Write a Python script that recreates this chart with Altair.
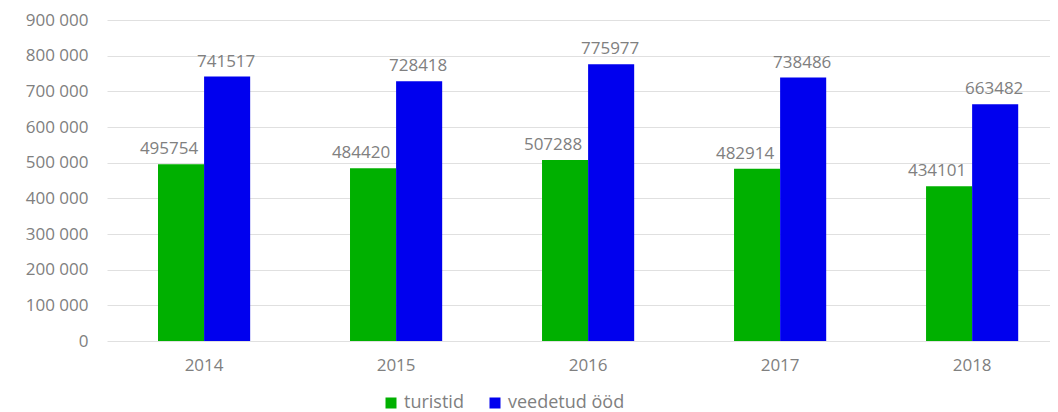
import altair as alt
import pandas as pd

years = ["2014", "2015", "2016", "2017", "2018"]
turistid = [495754, 484420, 507288, 482914, 434101]
veedetud = [741517, 728418, 775977, 738486, 663482]
series = ["turistid", "veedetud ööd"]
colors = ["#00B000", "#0000EE"]
y_ticks = [0, 100000, 200000, 300000, 400000, 500000, 600000, 700000, 800000, 900000]

rows = []
for i, yr in enumerate(years):
    rows.append({"aasta": yr, "seeria": series[0], "väärtus": turistid[i]})
    rows.append({"aasta": yr, "seeria": series[1], "väärtus": veedetud[i]})
df = pd.DataFrame(rows)

FONT = "Open Sans"
GRAY = "#808080"

base = alt.Chart(df).encode(
    x=alt.X(
        "aasta:N", sort=years, title=None,
        scale=alt.Scale(paddingInner=0.52, paddingOuter=0.2156, align=0.616),
        axis=alt.Axis(labelAngle=0, domain=False, ticks=False, labelPadding=16,
                      labelFontSize=17, labelColor=GRAY, labelFont=FONT),
    ),
    xOffset=alt.XOffset("seeria:N", sort=series,
                        scale=alt.Scale(paddingInner=0, paddingOuter=0)),
    y=alt.Y(
        "väärtus:Q", title=None,
        scale=alt.Scale(domain=[0, 900000], nice=False),
        axis=alt.Axis(values=y_ticks,
                      labelExpr="replace(format(datum.value, ','), ',', ' ')",
                      domain=False, ticks=False, gridColor="#E0E0E0",
                      labelPadding=19, labelFontSize=17, labelColor=GRAY,
                      labelFont=FONT),
    ),
)

bars = base.mark_bar().encode(
    color=alt.Color(
        "seeria:N", sort=series,
        scale=alt.Scale(domain=series, range=colors),
        legend=alt.Legend(title=None, orient="none", legendX=275, legendY=374,
                          direction="horizontal", symbolType="square",
                          symbolSize=121, symbolStrokeWidth=0,
                          labelFontSize=18, labelColor=GRAY, labelFont=FONT,
                          labelOffset=4, columnPadding=22, padding=0),
    )
)

labels_green = base.transform_filter(
    alt.datum.seeria == series[0]
).mark_text(baseline="alphabetic", dy=-10, dx=-12, fontSize=17,
            font=FONT, color=GRAY).encode(
    text=alt.Text("väärtus:Q", format="d")
)

labels_blue = base.transform_filter(
    alt.datum.seeria == series[1]
).mark_text(baseline="alphabetic", dy=-10, dx=-1, fontSize=17,
            font=FONT, color=GRAY).encode(
    text=alt.Text("väärtus:Q", format="d")
)

chart = (bars + labels_green + labels_blue).properties(
    width=943, height=321,
    padding={"left": 99, "top": 12, "right": 0, "bottom": 71},
    autosize=alt.AutoSizeParams(type="none"),
).configure_view(stroke=None)

chart.save("out.html", embed_options={"renderer": "svg", "actions": False})
